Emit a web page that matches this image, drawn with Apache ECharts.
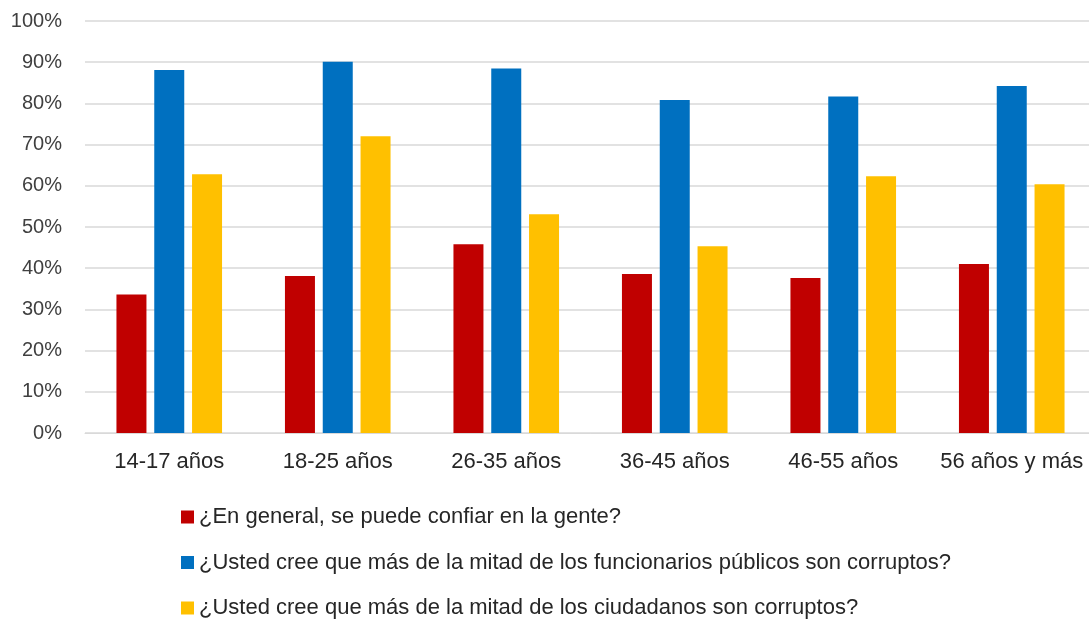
<!DOCTYPE html>
<html><head><meta charset="utf-8">
<script src="https://cdn.jsdelivr.net/npm/echarts@6/dist/echarts.min.js"></script>
<style>html,body{margin:0;padding:0;background:#fff;overflow:hidden}#c{width:1100px;height:620px}</style>
</head><body><div id="c"></div>
<script>
const categories = ['14-17 años','18-25 años','26-35 años','36-45 años','46-55 años','56 años y más'];
const seriesNames = [
  '¿En general, se puede confiar en la gente?',
  '¿Usted cree que más de la mitad de los funcionarios públicos son corruptos?',
  '¿Usted cree que más de la mitad de los ciudadanos son corruptos?'
];
const confianza = [33.6, 38.1, 45.8, 38.6, 37.6, 41.0];
const funcionarios = [88.1, 90.1, 88.5, 80.8, 81.7, 84.2];
const ciudadanos = [62.8, 72.0, 53.1, 45.3, 62.3, 60.4];
const yTicks = [0, 10, 20, 30, 40, 50, 60, 70, 80, 90, 100];
const colors = ['#C00000', '#0070C0', '#FFC000'];
const font = '"Liberation Sans", Arial, sans-serif';

const chart = echarts.init(document.getElementById('c'));
const data = [confianza, funcionarios, ciudadanos];
chart.setOption({
  animation: false,
  textStyle: {fontFamily: font},
  grid: {left: 85, right: 4, top: 21, bottom: 187},
  legend: {
    orient: 'vertical', left: 181, top: 506, itemGap: 23.5, padding: 0,
    height: 200,
    itemWidth: 13, itemHeight: 13, icon: 'rect',
    textStyle: {fontSize: 22, color: '#262626', fontFamily: font},
    data: seriesNames
  },
  xAxis: {
    type: 'category', data: categories,
    axisLine: {lineStyle: {color: '#d9d9d9', width: 1}},
    axisTick: {show: false},
    axisLabel: {fontSize: 22, color: '#262626', margin: 18, interval: 0}
  },
  yAxis: {
    type: 'value', min: yTicks[0], max: yTicks[yTicks.length - 1], interval: yTicks[1] - yTicks[0],
    axisLine: {show: false}, axisTick: {show: false},
    splitLine: {lineStyle: {color: '#d9d9d9', width: 1.5}},
    axisLabel: {fontSize: 20, color: '#404040', margin: 23, formatter: '{value}%'}
  },
  series: data.map((d, i) => ({
    name: seriesNames[i], type: 'bar', data: d,
    barWidth: 30, barGap: '26%',
    itemStyle: {color: colors[i]}
  }))
});
</script></body></html>
